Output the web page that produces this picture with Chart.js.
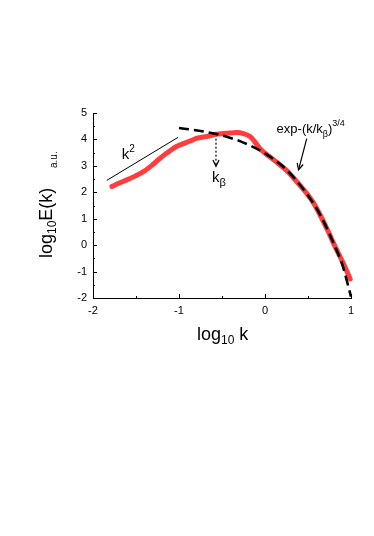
<!DOCTYPE html>
<html><head><meta charset="utf-8">
<script src="https://cdn.jsdelivr.net/npm/chart.js@4"></script>
<style>html,body{margin:0;padding:0;background:#fff}#wrap{width:374px;height:536px;position:relative}</style>
</head><body><div id="wrap"><canvas id="c" width="374" height="536"></canvas></div>
<script>
// ---- data ----
const xTickValues = [-2, -1, 0, 1];
const yTickValues = [-2, -1, 0, 1, 2, 3, 4, 5];
const measuredLogK = [-1.78,-1.7,-1.6,-1.5,-1.4,-1.3,-1.2,-1.1,-1.03,-0.95,-0.87,-0.8,-0.72,-0.64,-0.56,-0.48,-0.41,-0.33,-0.25,-0.17,-0.12,-0.06,0,0.06,0.15,0.25,0.33,0.41,0.48,0.56,0.64,0.72,0.8,0.87,0.94,0.99];
const measuredLogE = [2.22,2.34,2.48,2.63,2.81,3.06,3.34,3.58,3.73,3.84,3.94,4.04,4.09,4.14,4.20,4.22,4.24,4.26,4.22,4.10,3.92,3.66,3.48,3.33,3.10,2.83,2.55,2.25,1.98,1.62,1.15,0.62,0.05,-0.42,-0.90,-1.28];
const fitLogK = [-1.0,-0.75,-0.5,-0.25,0,0.25,0.5,0.65,0.8,0.9,1.0];
const fitLogE = [4.43,4.32,4.15,3.88,3.47,2.85,1.88,1.10,0.05,-0.75,-1.95];
const slopeLogK = [-1.84,-1.01];
const slopeLogE = [2.45,4.08];
const kbArrowLogK = [-0.57,-0.57];
const kbArrowLogE = [4.18,2.98];
const expArrowLogK = [0.485,0.39];
const expArrowLogE = [4.03,2.85];

const pts = (xs, ys) => xs.map((x, i) => ({x, y: ys[i]}));
const FONT = '"Liberation Sans", Arial, sans-serif';

function rich(ctx, parts, x, y) {
  let cx = x;
  for (const p of parts) {
    ctx.font = p.size + 'px ' + FONT;
    ctx.fillText(p.t, cx, y + (p.dy || 0));
    cx += ctx.measureText(p.t).width;
  }
}

const inwardTicks = {
  id: 'inwardTicks',
  afterDraw(chart) {
    const {ctx, chartArea: a, scales: {x, y}} = chart;
    ctx.save();
    ctx.strokeStyle = '#000'; ctx.lineWidth = 1;
    for (let v = yTickValues[0]; v <= yTickValues[yTickValues.length - 1]; v += 0.5) {
      const p = Math.round(y.getPixelForValue(v)) + 0.5;
      const L = Number.isInteger(v) ? 4 : 2;
      ctx.beginPath(); ctx.moveTo(a.left, p); ctx.lineTo(a.left + L, p); ctx.stroke();
    }
    for (let v = xTickValues[0]; v <= xTickValues[xTickValues.length - 1]; v += 0.5) {
      const p = Math.round(x.getPixelForValue(v)) + 0.5;
      const L = Number.isInteger(v) ? 4 : 2;
      ctx.beginPath(); ctx.moveTo(p, a.bottom); ctx.lineTo(p, a.bottom - L); ctx.stroke();
    }
    ctx.restore();
  }
};

const annotations = {
  id: 'annotations',
  afterDatasetsDraw(chart) {
    const {ctx, scales: {x, y}} = chart;
    ctx.save();
    ctx.fillStyle = '#000'; ctx.strokeStyle = '#000';
    ctx.textBaseline = 'alphabetic'; ctx.textAlign = 'left';
    const head = (dsIndex) => {
      const el = chart.getDatasetMeta(dsIndex).data;
      const p0 = el[el.length - 2], p1 = el[el.length - 1];
      const ang = Math.atan2(p1.y - p0.y, p1.x - p0.x);
      const L = 7, W = 0.45;
      ctx.beginPath();
      ctx.moveTo(p1.x - L * Math.cos(ang - W), p1.y - L * Math.sin(ang - W));
      ctx.lineTo(p1.x, p1.y);
      ctx.lineTo(p1.x - L * Math.cos(ang + W), p1.y - L * Math.sin(ang + W));
      ctx.lineWidth = 1.2; ctx.setLineDash([]);
      ctx.stroke();
    };
    head(2);
    head(3);
    rich(ctx, [{t: 'k', size: 15}, {t: '2', size: 10, dy: -7}], x.getPixelForValue(-1.666), y.getPixelForValue(3.27));
    rich(ctx, [{t: 'k', size: 15}, {t: 'β', size: 11, dy: 4}], x.getPixelForValue(-0.616), y.getPixelForValue(2.38));
    rich(ctx, [{t: 'exp-(k/k', size: 13}, {t: 'β', size: 9, dy: 4}, {t: ')', size: 13}, {t: '3/4', size: 9, dy: -7}], x.getPixelForValue(0.135), y.getPixelForValue(4.23));
    rich(ctx, [{t: 'log', size: 18}, {t: '10', size: 12, dy: 4}, {t: ' k', size: 18}], 197, 340);
    ctx.save(); ctx.translate(52, 258); ctx.rotate(-Math.PI / 2);
    rich(ctx, [{t: 'log', size: 18}, {t: '10', size: 12, dy: 4}, {t: 'E(k)', size: 18}], 0, 0);
    ctx.restore();
    ctx.save(); ctx.translate(57, 168); ctx.rotate(-Math.PI / 2);
    rich(ctx, [{t: 'a.u.', size: 10}], 0, 0);
    ctx.restore();
    ctx.restore();
  }
};

new Chart(document.getElementById('c'), {
  type: 'line',
  data: {
    datasets: [
      {data: pts(fitLogK, fitLogE), borderColor: '#000', borderWidth: 2.6, borderDash: [10, 5], pointRadius: 0, cubicInterpolationMode: 'monotone', clip: false},
      {data: pts(measuredLogK, measuredLogE), borderColor: '#ff3d3d', borderWidth: 5, borderCapStyle: 'round', borderJoinStyle: 'round', pointRadius: 0, cubicInterpolationMode: 'monotone', clip: false},
      {data: pts(kbArrowLogK, kbArrowLogE), borderColor: '#000', borderWidth: 1.2, borderDash: [2, 2], pointRadius: 0, clip: false},
      {data: pts(expArrowLogK, expArrowLogE), borderColor: '#000', borderWidth: 1.2, pointRadius: 0, clip: false},
      {data: pts(slopeLogK, slopeLogE), borderColor: '#000', borderWidth: 1, pointRadius: 0, clip: false}
    ]
  },
  options: {
    responsive: false,
    animation: false,
    events: [],
    layout: {padding: {top: 113, right: 23, left: 0, bottom: 0}},
    plugins: {legend: {display: false}, tooltip: {enabled: false}},
    scales: {
      x: {
        type: 'linear', min: xTickValues[0], max: xTickValues[xTickValues.length - 1],
        afterFit(s) { s.height = 536 - 298; },
        afterBuildTicks(s) { s.ticks = xTickValues.map(v => ({value: v})); },
        grid: {display: false, drawTicks: false},
        border: {display: true, color: '#000', width: 1},
        ticks: {padding: 6, color: '#000', font: {family: FONT, size: 11}}
      },
      y: {
        type: 'linear', min: yTickValues[0], max: yTickValues[yTickValues.length - 1],
        afterFit(s) { s.width = 93; },
        afterBuildTicks(s) { s.ticks = yTickValues.map(v => ({value: v})); },
        grid: {display: false, drawTicks: false},
        border: {display: true, color: '#000', width: 1},
        ticks: {padding: 6, color: '#000', font: {family: FONT, size: 11}}
      }
    }
  },
  plugins: [inwardTicks, annotations]
});
</script></body></html>
